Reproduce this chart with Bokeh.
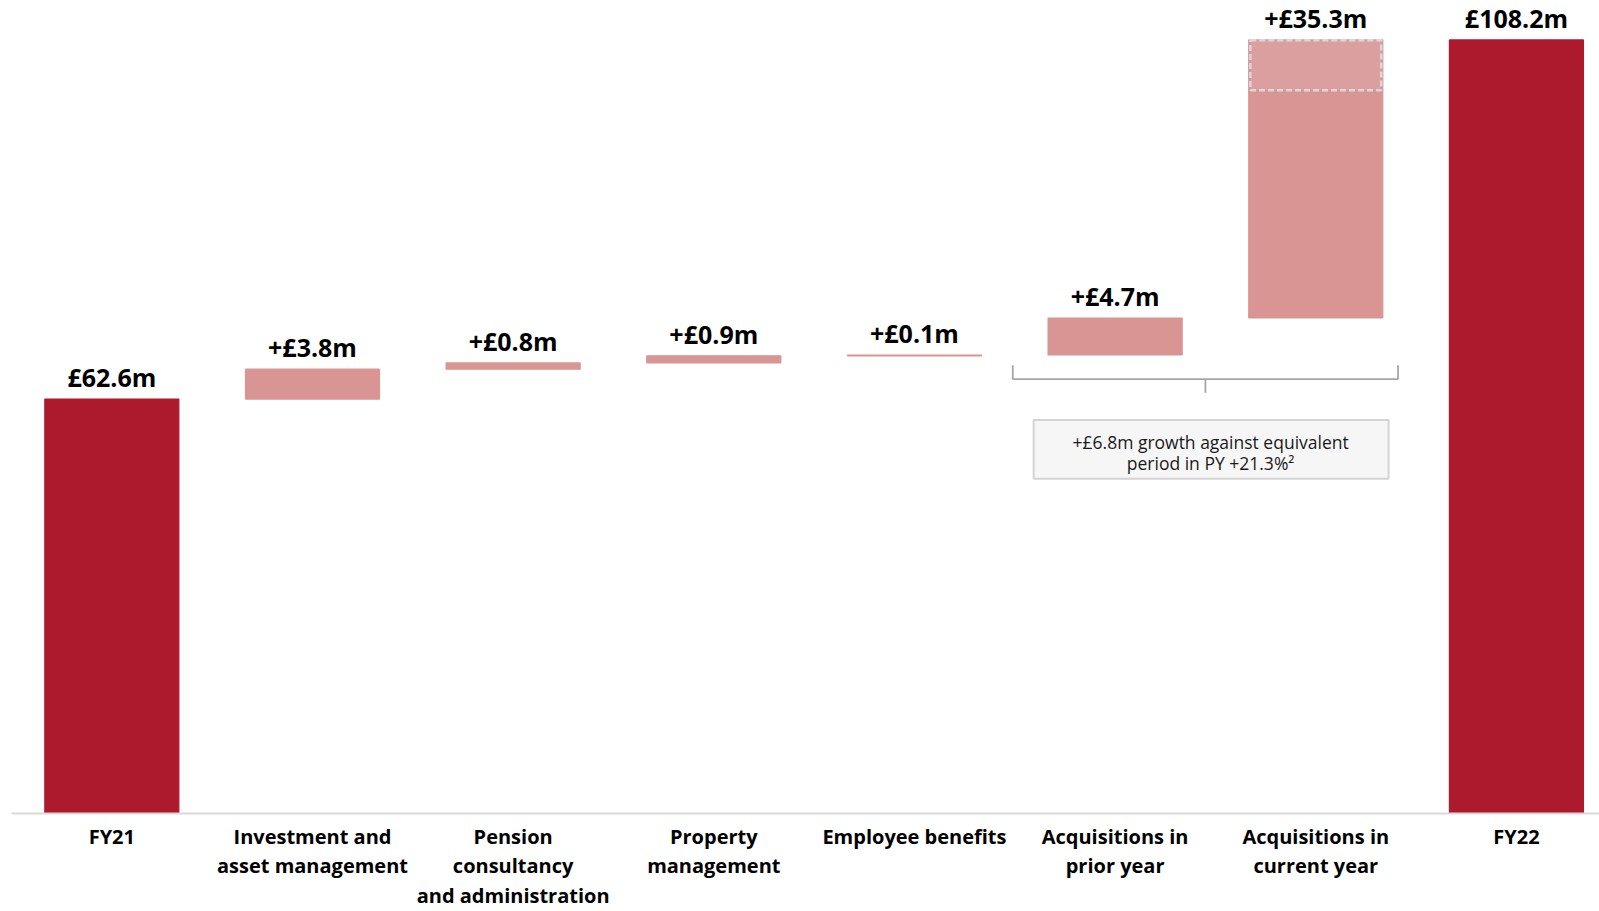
from bokeh.plotting import figure
from bokeh.models import Range1d, ColumnDataSource, FixedTicker
from bokeh.core.properties import value
from bokeh.embed import file_html
from bokeh.resources import INLINE

# ---- data ----
categories = ["FY21", "Investment and\nasset management", "Pension\nconsultancy\nand administration",
              "Property\nmanagement", "Employee benefits", "Acquisitions in\nprior year",
              "Acquisitions in\ncurrent year", "FY22"]
amounts = [62.6, 3.8, 0.8, 0.9, 0.1, 4.7, 35.3, 108.2]
is_total = [True, False, False, False, False, False, False, True]
value_labels = ["£62.6m", "+£3.8m", "+£0.8m", "+£0.9m", "+£0.1m", "+£4.7m", "+£35.3m", "£108.2m"]
highlight_amount = 6.4          # dashed-outlined portion of current-year acquisitions
note_lines = ["+£6.8m growth against equivalent", "period in PY +21.3%²"]

DARK = "#AD1A2E"
PINK = "#D99594"
FONT = "Open Sans"

xs = list(range(len(categories)))
bottoms, tops = [], []
running = 0.0
for amt, tot in zip(amounts, is_total):
    if tot:
        bottoms.append(0.0)
        tops.append(amt)
        running = amt
    else:
        bottoms.append(running)
        running += amt
        tops.append(running)

colors = [DARK if t else PINK for t in is_total]
src = ColumnDataSource(dict(x=xs, bottom=bottoms, top=tops, color=colors, label=value_labels))

p = figure(width=1599, height=911, x_range=Range1d(-0.5, 7.414), y_range=Range1d(10, 113.2),
           output_backend="svg", toolbar_location=None,
           min_border_left=11, min_border_right=0, min_border_top=0, min_border_bottom=97)
p.outline_line_color = None
p.xgrid.visible = False
p.ygrid.visible = False
p.yaxis.visible = False
p.background_fill_color = "white"
p.border_fill_color = "white"

p.vbar(x="x", bottom="bottom", top="top", width=0.668, fill_color="color",
       line_color="color", line_width=1.2, source=src)

# highlighted top portion of the current-year acquisitions bar
i = 6
p.quad(left=[xs[i] - 0.326], right=[xs[i] + 0.326], top=[tops[i] - 0.05],
       bottom=[tops[i] - highlight_amount], fill_color="#DB9F9F",
       line_color="#D9D9D9", line_width=2.5, line_dash="6 3")

p.text(x="x", y="top", text="label", source=src, text_align="center", text_baseline="middle",
       y_offset=-22, text_font=value(FONT), text_font_style="bold", text_font_size="25px",
       text_color="black")

# brace under acquisitions
bx0, bx1, bxm = 4.49, 6.41, 5.45
p.line(x=[bx0, bx0, bx1, bx1], y=[66.9, 65.15, 65.15, 66.9], line_color="#A6A6A6", line_width=1.8)
p.line(x=[bxm, bxm], y=[65.15, 63.4], line_color="#A6A6A6", line_width=1.8)

# note box
p.quad(left=[4.594], right=[6.363], top=[59.95], bottom=[52.5], fill_color="#F6F6F6",
       line_color="#D4D4D4", line_width=2)
p.text(x=[5.476, 5.476], y=[57.2, 54.45], text=note_lines, text_align="center",
       text_baseline="middle", text_font=value(FONT), text_font_size="17.5px", text_color="#1A1A1A")

ax = p.xaxis[0]
ax.ticker = FixedTicker(ticks=xs)
ax.major_label_overrides = {x: c for x, c in zip(xs, categories)}
ax.axis_line_color = "#D9D9D9"
ax.axis_line_width = 2
ax.major_tick_line_color = None
ax.minor_tick_line_color = None
ax.major_tick_in = 0
ax.major_tick_out = 0
ax.major_label_standoff = 9
ax.major_label_text_font = FONT
ax.major_label_text_font_style = "bold"
ax.major_label_text_font_size = "20px"
ax.major_label_text_color = "black"
ax.major_label_text_line_height = 1.1

open("out.html", "w").write(file_html(p, INLINE))
